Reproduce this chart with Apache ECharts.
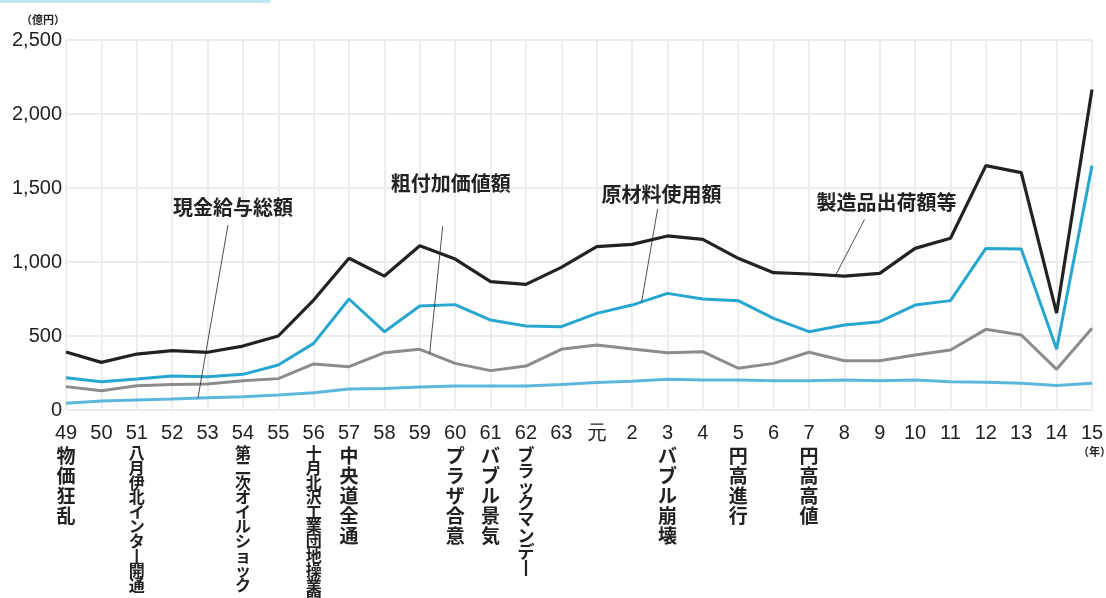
<!DOCTYPE html>
<html>
<head>
<meta charset="utf-8">
<script src="https://cdn.jsdelivr.net/npm/echarts@6/dist/echarts.min.js"></script>
<style>
html,body{margin:0;padding:0;background:#fff;}
#c{width:1106px;height:598px;}
</style>
</head>
<body>
<div id="c"></div>
<script>
// ---- data ----
const years = ['49','50','51','52','53','54','55','56','57','58','59','60','61','62','63','元','2','3','4','5','6','7','8','9','10','11','12','13','14','15'];
const events = {'49':'物価狂乱','51':'八月伊北インター開通','54':'第二次オイルショック','56':'十月北沢工業団地操業開始','57':'中央道全通','60':'プラザ合意','61':'バブル景気','62':'ブラックマンデー','3':'バブル崩壊','5':'円高進行','7':'円高高値'};
const shipments = [392,322,378,401,390,432,500,743,1025,905,1110,1020,867,849,964,1104,1119,1176,1153,1025,928,919,905,923,1092,1160,1651,1604,655,2165];
const materials = [218,191,209,230,225,241,304,450,750,529,703,712,608,568,563,653,709,788,750,739,619,529,574,597,709,739,1092,1088,410,1651];
const valueAdded = [158,130,164,173,176,198,212,311,293,387,410,315,266,297,410,439,412,387,394,282,315,390,333,333,372,405,545,507,275,552];
const wages = [45,61,68,74,83,90,101,117,142,146,155,162,162,162,173,185,194,207,203,203,198,198,203,198,203,191,187,180,165,180];
const yTicks = [0,500,1000,1500,2000,2500];
const seriesNames = ['製造品出荷額等','原材料使用額','粗付加価値額','現金給与総額'];

const colors = ['#222222','#27a7d0','#8c8c8c','#5db7dc'];
const jp = '"Noto Sans CJK JP", sans-serif';
const num = '"Liberation Sans", Arial, sans-serif';

function fmtX(v){
  let s = '{n|' + v + '}';
  const e = events[v];
  if (e){
    const style = e.length > 8 ? 'l' : (e.length > 5 ? 'm' : 'e');
    for (const ch of e){
      s += '\n{' + style + '|' + (ch === 'ー' ? '丨' : ch) + '}';
    }
  }
  return s;
}

const chart = echarts.init(document.getElementById('c'));
const allData = [shipments, materials, valueAdded, wages];
const series = allData.map((d, i) => ({
  name: seriesNames[i],
  type: 'line',
  data: d,
  symbol: 'none',
  z: 10 - i,
  lineStyle: {color: colors[i], width: i === 0 ? 3.2 : 3},
  itemStyle: {color: colors[i]}
})).reverse();

chart.setOption({
  animation: false,
  grid: {left: 66, right: 14, top: 40, bottom: 188, containLabel: false, outerBoundsMode: 'none'},
  xAxis: {
    type: 'category',
    data: years,
    boundaryGap: false,
    axisLine: {show: false},
    axisTick: {show: false},
    splitLine: {show: true, lineStyle: {color: '#ededed', width: 2}},
    axisLabel: {
      interval: 0,
      margin: 10,
      formatter: fmtX,
      rich: {
        n: {fontFamily: num, fontSize: 20, color: '#222', lineHeight: 26, align: 'center'},
        e: {fontFamily: jp, fontSize: 19, fontWeight: 'bold', color: '#222', lineHeight: 20, align: 'center'},
        m: {fontFamily: jp, fontSize: 17, fontWeight: 'bold', color: '#222', lineHeight: 16.2, align: 'center'},
        l: {fontFamily: jp, fontSize: 16, fontWeight: 'bold', color: '#222', lineHeight: 14.6, align: 'center'}
      }
    }
  },
  yAxis: {
    type: 'value',
    min: 0, max: 2500, interval: 500,
    axisLine: {show: false},
    axisTick: {show: false},
    splitLine: {show: true, lineStyle: {color: '#ececec', width: 2}},
    axisLabel: {
      margin: 4,
      fontFamily: num, fontSize: 20, color: '#222',
      formatter: v => yTicks.includes(v) ? v.toLocaleString('en-US') : ''
    }
  },
  series: series
});

// annotations anchored on series points
const annotations = [
  {text: '現金給与総額', s: 3, pos: 3.73, dx: 30, dy: -173, tx: 35, ty: -191},
  {text: '粗付加価値額', s: 2, pos: 10.28, dx: 13, dy: -127, tx: 21, ty: -170},
  {text: '原材料使用額', s: 1, pos: 16.27, dx: 16, dy: -93, tx: 20, ty: -108},
  {text: '製造品出荷額等', s: 0, pos: 21.75, dx: 29, dy: -56, tx: 51, ty: -73}
];
const graphics = [
  {type: 'rect', shape: {x: 0, y: 0, width: 270, height: 3}, style: {fill: '#bfe9f3'}},
  {type: 'text', left: 21, top: 14, style: {text: '（億円）', font: 'bold 11px ' + jp, fill: '#222'}},
  {type: 'text', left: 1078, top: 446, style: {text: '（年）', font: 'bold 11px ' + jp, fill: '#222'}}
];
annotations.forEach(a => {
  const d = allData[a.s];
  const i0 = Math.floor(a.pos), f = a.pos - i0;
  const p0 = chart.convertToPixel({seriesName: seriesNames[a.s]}, [i0, d[i0]]);
  const p1 = chart.convertToPixel({seriesName: seriesNames[a.s]}, [i0 + 1, d[i0 + 1]]);
  const x = p0[0] + (p1[0] - p0[0]) * f;
  const y = p0[1] + (p1[1] - p0[1]) * f;
  graphics.push({type: 'line', z: 100, shape: {x1: x, y1: y, x2: x + a.dx, y2: y + a.dy}, style: {stroke: '#222', lineWidth: 0.8}});
  graphics.push({type: 'text', z: 100, x: x + a.tx, y: y + a.ty, style: {text: a.text, font: 'bold 20px ' + jp, fill: '#222', align: 'center', verticalAlign: 'middle'}});
});
chart.setOption({graphic: graphics});
</script>
</body>
</html>
